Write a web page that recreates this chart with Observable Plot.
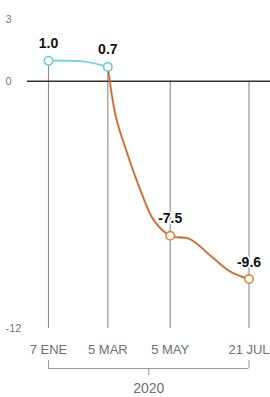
<!DOCTYPE html>
<html><head><meta charset="utf-8">
<script src="https://cdn.jsdelivr.net/npm/d3@7"></script>
<script src="https://cdn.jsdelivr.net/npm/@observablehq/plot@0.6"></script>
<style>body{margin:0;background:#fff} #chart svg{display:block}</style>
</head><body><div id="chart"></div>
<script>
const keyDates = ["2020-01-07","2020-03-05","2020-05-05","2020-07-21"];
const keyValues = [1.0, 0.7, -7.5, -9.6];
const tickLabels = ["7 ENE","5 MAR","5 MAY","21 JUL"];
const yTicks = [3, 0, -12];
const yearLabel = "2020";
const cyanDates = ["2020-01-07","2020-02-12","2020-03-05"];
const cyanValues = [1.0, 0.95, 0.7];
const orangeDates = ["2020-03-05","2020-03-13","2020-03-23","2020-04-06","2020-04-19","2020-05-05","2020-05-24","2020-06-13","2020-07-03","2020-07-21"];
const orangeValues = [0.7,-1.75,-3.35,-5.3,-6.75,-7.5,-7.65,-8.45,-9.25,-9.6];

const P = d => new Date(d + "T00:00:00Z");
const keyPts = keyDates.map((d,i)=>({date:P(d), value:keyValues[i], label:tickLabels[i]}));
const cyan = cyanDates.map((d,i)=>({date:P(d), value:cyanValues[i]}));
const orange = orangeDates.map((d,i)=>({date:P(d), value:orangeValues[i]}));
const first = keyPts[0].date, last = keyPts[keyPts.length-1].date;
const mid = new Date((+first + +last)/2);
const yMin = d3.min(yTicks), yMax = d3.max(yTicks);
const bracket = [{x1:first, x2:last, y:yMin}];
const ends = [first, last];
const axisFont = "'Liberation Sans',Arial,sans-serif";

const chart = Plot.plot({
  width: 270, height: 397,
  marginTop: 19, marginBottom: 69, marginLeft: 48, marginRight: 21.5,
  style: {background:"#fff", fontFamily:"'Liberation Sans',Arial,sans-serif"},
  x: {type:"utc", domain:[first, last], axis:null},
  y: {domain:[yMin, yMax], axis:null},
  marks: [
    Plot.ruleX(keyPts, {x:"date", y1:d=>Math.max(d.value,0), y2:yMin, stroke:"#8c8c8c", strokeWidth:1.1}),
    Plot.ruleY([0], {stroke:"#333", strokeWidth:1.6, insetLeft:-21, insetRight:-22}),
    Plot.text(yTicks, {y:d=>d, text:d=>String(d), frameAnchor:"left", textAnchor:"start", dx:-43, fontSize:11, fill:"#777", fontFamily:axisFont}),
    Plot.line(cyan, {x:"date", y:"value", stroke:"#66d2de", strokeWidth:1.6, curve:"catmull-rom"}),
    Plot.line(orange, {x:"date", y:"value", stroke:"#e88a48", strokeWidth:2.6, strokeOpacity:0.6, curve:"catmull-rom"}),
    Plot.line(orange, {x:"date", y:"value", stroke:"#b0602c", strokeWidth:1.1, curve:"catmull-rom"}),
    Plot.dot(keyPts.slice(0,2), {x:"date", y:"value", r:4.2, fill:"#fff", stroke:"#5fd0dc", strokeWidth:1.6}),
    Plot.dot(keyPts.slice(2), {x:"date", y:"value", r:4.2, fill:"#fff", stroke:"#e8823a", strokeWidth:1.6}),
    Plot.text(keyPts, {x:"date", y:"value", text:d=>d.value.toFixed(1), dy:-17, fontSize:14, fontWeight:"bold", fill:"#111", stroke:"#fff", strokeWidth:3, paintOrder:"stroke"}),
    Plot.text(keyPts, {x:"date", y:yMin, text:"label", dy:21, fontSize:13, fill:"#707070", fontFamily:axisFont}),
    Plot.ruleY(bracket, {x1:"x1", x2:"x2", y:"y", dy:40, stroke:"#999", strokeWidth:1}),
    Plot.ruleX(ends, {x:d=>d, y1:yMin, y2:yMin, dy:40, insetBottom:8, stroke:"#999", strokeWidth:1}),
    Plot.ruleX([mid], {x:d=>d, y1:yMin, y2:yMin, dy:40, insetTop:7, stroke:"#999", strokeWidth:1}),
    Plot.text([yearLabel], {x:()=>mid, y:yMin, text:d=>d, dy:60, fontSize:14, fill:"#707070", fontFamily:axisFont})
  ]
});
document.getElementById("chart").append(chart);
</script></body></html>
